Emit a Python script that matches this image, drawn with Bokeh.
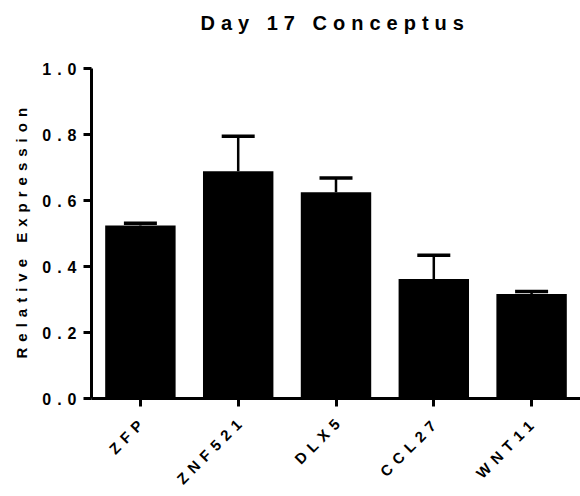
from bokeh.plotting import figure
from bokeh.models import (Whisker, TeeHead, ColumnDataSource, FixedTicker, NumeralTickFormatter,
                          Range1d, InlineStyleSheet, Title)
from bokeh.embed import file_html
from bokeh.resources import INLINE
import math

genes = ["ZFP", "ZNF521", "DLX5", "CCL27", "WNT11"]
expression = [0.524, 0.689, 0.625, 0.362, 0.317]
sem = [0.007, 0.106, 0.043, 0.072, 0.007]
y_ticks = [0.0, 0.2, 0.4, 0.6, 0.8, 1.0]
title_text = "Day 17 Conceptus"
y_label = "Relative Expression"

FONT = "Liberation Sans"
SPACING = 6          # CSS letter spacing, px
XLABEL_PX = 15
SPACE_W = 0.278 * XLABEL_PX   # width of a space in the label font

pos = list(range(len(genes)))
upper = [v + e for v, e in zip(expression, sem)]
src = ColumnDataSource(dict(x=pos, val=expression, upper=upper))

# right-aligned rotated labels: trailing (collapsed) spaces offset the extra letter spacing
xlabels = {i: g + " " * round((len(g) - 1) * SPACING / SPACE_W) for i, g in zip(pos, genes)}

p = figure(x_range=Range1d(-0.5, len(genes) - 0.5), y_range=Range1d(0, 1.0), width=580, height=496,
           output_backend="svg", toolbar_location=None,
           min_border_left=90, min_border_right=0, min_border_top=68, min_border_bottom=98)
p.stylesheets = [InlineStyleSheet(css=":host { letter-spacing: %dpx; }" % SPACING)]

p.vbar(x="x", top="val", width=0.72, source=src, fill_color="black", line_color=None)

w = Whisker(base="x", upper="upper", lower="val", source=src,
            line_color="black", line_width=2.5,
            upper_head=TeeHead(size=33, line_width=3.5, line_color="black"),
            lower_head=None)
p.add_layout(w)

p.xgrid.grid_line_color = None
p.ygrid.grid_line_color = None
p.outline_line_color = None

p.yaxis.ticker = FixedTicker(ticks=y_ticks)
p.yaxis.formatter = NumeralTickFormatter(format="0.0")
p.xaxis.ticker = FixedTicker(ticks=pos)
p.xaxis.major_label_overrides = xlabels

for ax in (p.xaxis, p.yaxis):
    ax.axis_line_width = 3
    ax.axis_line_color = "black"
    ax.major_tick_line_width = 3
    ax.major_tick_line_color = "black"
    ax.major_tick_in = 0
    ax.major_tick_out = 8
    ax.minor_tick_line_color = None
    ax.major_label_text_font = FONT
    ax.major_label_text_font_style = "bold"
    ax.major_label_text_color = "black"

p.yaxis.major_label_text_font_size = "16px"
p.xaxis.major_label_text_font_size = "%dpx" % XLABEL_PX
p.yaxis.major_label_standoff = 19
p.xaxis.major_label_orientation = math.pi / 4
p.xaxis.major_label_standoff = 16

# y axis title (left panel, starts near the bottom of the frame)
p.add_layout(Title(text=y_label, align="left", offset=40, vertical_align="bottom", standoff=20,
                   text_font=FONT, text_font_style="bold", text_font_size="15px",
                   text_color="black"), "left")

# spacer above the frame, then the chart title
p.add_layout(Title(text=" ", text_font_size="1px", standoff=32), "above")
p.add_layout(Title(text=title_text, align="left", offset=109, vertical_align="bottom", standoff=0,
                   text_font=FONT, text_font_style="bold", text_font_size="20px",
                   text_color="black"), "above")

open("out.html", "w").write(file_html(p, INLINE))
